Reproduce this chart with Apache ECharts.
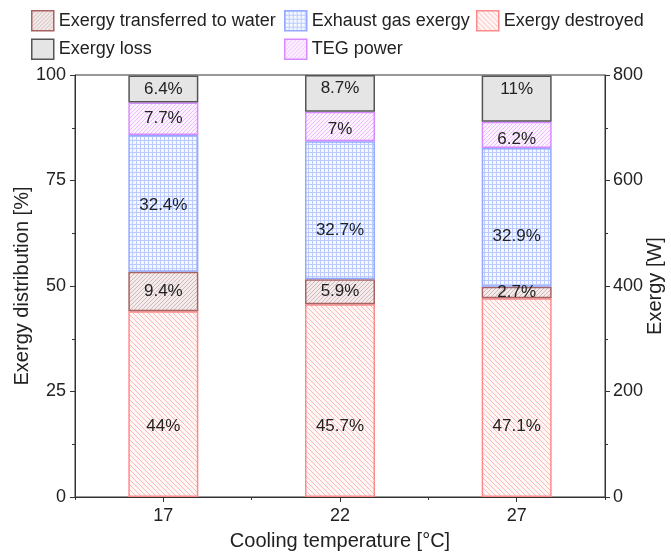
<!DOCTYPE html>
<html><head><meta charset="utf-8">
<script src="https://cdn.jsdelivr.net/npm/echarts@6/dist/echarts.min.js"></script>
<style>html,body{margin:0;padding:0;background:#fff}#c{width:671px;height:553px}</style>
</head><body><div id="c"></div>
<script>
var categories = ['17', '22', '27'];
var destroyed = [44, 45.7, 47.1];
var water = [9.4, 5.9, 2.7];
var exhaust = [32.4, 32.7, 32.9];
var teg = [7.7, 7, 6.2];
var loss = [6.4, 8.7, 11];
var leftTicks = [0, 25, 50, 75, 100];
var rightTicks = [0, 200, 400, 600, 800];

function hatch(bg, fg, dir, s, lw) {
  var c = document.createElement('canvas');
  c.width = s; c.height = s;
  var g = c.getContext('2d');
  g.fillStyle = bg; g.fillRect(0, 0, s, s);
  g.strokeStyle = fg; g.lineWidth = lw;
  g.beginPath();
  if (dir === '/') {
    g.moveTo(0, s); g.lineTo(s, 0);
    g.moveTo(-1, 1); g.lineTo(1, -1);
    g.moveTo(s - 1, s + 1); g.lineTo(s + 1, s - 1);
  } else {
    g.moveTo(0, 0); g.lineTo(s, s);
    g.moveTo(-1, s - 1); g.lineTo(1, s + 1);
    g.moveTo(s - 1, -1); g.lineTo(s + 1, 1);
  }
  g.stroke();
  return {image: c, repeat: 'repeat'};
}
function grid(bg, fg, s) {
  var c = document.createElement('canvas');
  c.width = s; c.height = s;
  var g = c.getContext('2d');
  g.fillStyle = bg; g.fillRect(0, 0, s, s);
  g.fillStyle = fg;
  g.fillRect(0, 0, s, 1); g.fillRect(0, 0, 1, s);
  return {image: c, repeat: 'repeat'};
}

var font = 'Liberation Sans, Arial, sans-serif';
var txt = '#222';
function pct(p) { return p.value + '%'; }

var series = [
  {name: 'Exergy destroyed', data: destroyed,
   color: hatch('#fff6f6', '#ffb8b8', '\\', 5, 1), border: '#ff8a8a',
   label: {position: 'insideBottom', distance: 62}},
  {name: 'Exergy transferred to water', data: water,
   color: hatch('#f4ecec', '#d2b8b8', '/', 4, 1), border: '#a86262',
   label: {position: 'inside'}},
  {name: 'Exhaust gas exergy', data: exhaust,
   color: grid('#f5f8ff', '#bccbff', 4), border: '#94a9ff',
   label: {position: 'inside'}, offsets: [2, 20, 19]},
  {name: 'TEG power', data: teg,
   color: hatch('#fdf3ff', '#ebbcff', '/', 4, 1), border: '#d78aff',
   label: {position: 'inside'}, offsets: [0, 3, 4]},
  {name: 'Exergy loss', data: loss,
   color: '#e5e5e5', border: '#555555',
   label: {position: 'insideTop', distance: 5}}
].map(function (s) {
  var data = s.data.map(function (v, i) {
    var item = {value: v};
    if (s.offsets) item.label = {offset: [0, s.offsets[i]]};
    return item;
  });
  return {
    name: s.name, type: 'bar', stack: 'a', barWidth: 70, yAxisIndex: 0, xAxisIndex: 0,
    data: data,
    itemStyle: {color: s.color, borderColor: s.border, borderWidth: 1.5},
    label: Object.assign({show: true, formatter: pct, fontSize: 17, fontFamily: font, color: txt}, s.label),
    emphasis: {disabled: true}
  };
});

var legendText = {fontSize: 18, fontFamily: font, color: txt};
function legend(left, names) {
  return {left: left, top: 10, padding: 0, orient: 'vertical', icon: 'rect', itemWidth: 22, itemHeight: 20, itemGap: 7,
    itemStyle: {borderWidth: 1.5}, textStyle: legendText, data: names, selectedMode: false};
}

var axisLine = {show: true, lineStyle: {color: '#333', width: 1}};
var labelStyle = {fontSize: 18, fontFamily: font, color: txt};

var option = {
  animation: false,
  backgroundColor: '#fff',
  legend: [
    legend(31, ['Exergy transferred to water', 'Exergy loss']),
    legend(284, ['Exhaust gas exergy', 'TEG power']),
    legend(476, ['Exergy destroyed'])
  ],
  grid: {left: 75, right: 66, top: 75, bottom: 56, containLabel: false, outerBoundsMode: 'none',
         show: true, borderColor: '#333', borderWidth: 1, backgroundColor: 'transparent'},
  xAxis: [
    {type: 'category', data: categories, position: 'bottom',
     axisLine: axisLine, axisTick: {show: true, alignWithLabel: true, length: 5, lineStyle: {color: '#333'}},
     axisLabel: Object.assign({margin: 10}, labelStyle),
     name: 'Cooling temperature [°C]', nameLocation: 'middle', nameGap: 34, nameMoveOverlap: false,
     nameTextStyle: {fontSize: 20, fontFamily: font, color: txt}},
    {type: 'category', data: categories, position: 'bottom',
     axisLine: {show: false}, axisTick: {show: true, length: 3, lineStyle: {color: '#333'}},
     axisLabel: {show: false}}
  ],
  yAxis: [
    {type: 'value', min: 0, max: 100, interval: 25, position: 'left',
     axisLine: axisLine, axisTick: {show: true, length: 5, lineStyle: {color: '#333'}},
     minorTick: {show: true, splitNumber: 2, length: 3, lineStyle: {color: '#333'}},
     splitLine: {show: false},
     axisLabel: Object.assign({margin: 9, formatter: function (v) { return leftTicks.indexOf(v) >= 0 ? String(v) : ''; }}, labelStyle),
     name: 'Exergy distribution [%]', nameLocation: 'middle', nameGap: 43, nameMoveOverlap: false,
     nameTextStyle: {fontSize: 20, fontFamily: font, color: txt}},
    {type: 'value', min: 0, max: 800, interval: 200, position: 'right',
     axisLine: axisLine, axisTick: {show: true, length: 5, lineStyle: {color: '#333'}},
     minorTick: {show: true, splitNumber: 2, length: 3, lineStyle: {color: '#333'}},
     splitLine: {show: false},
     axisLabel: Object.assign({margin: 8, formatter: function (v) { return rightTicks.indexOf(v) >= 0 ? String(v) : ''; }}, labelStyle),
     name: 'Exergy [W]', nameLocation: 'middle', nameGap: 40, nameRotate: 90, nameMoveOverlap: false,
     nameTextStyle: {fontSize: 20, fontFamily: font, color: txt}}
  ],
  series: series
};
echarts.init(document.getElementById('c')).setOption(option);
</script></body></html>
